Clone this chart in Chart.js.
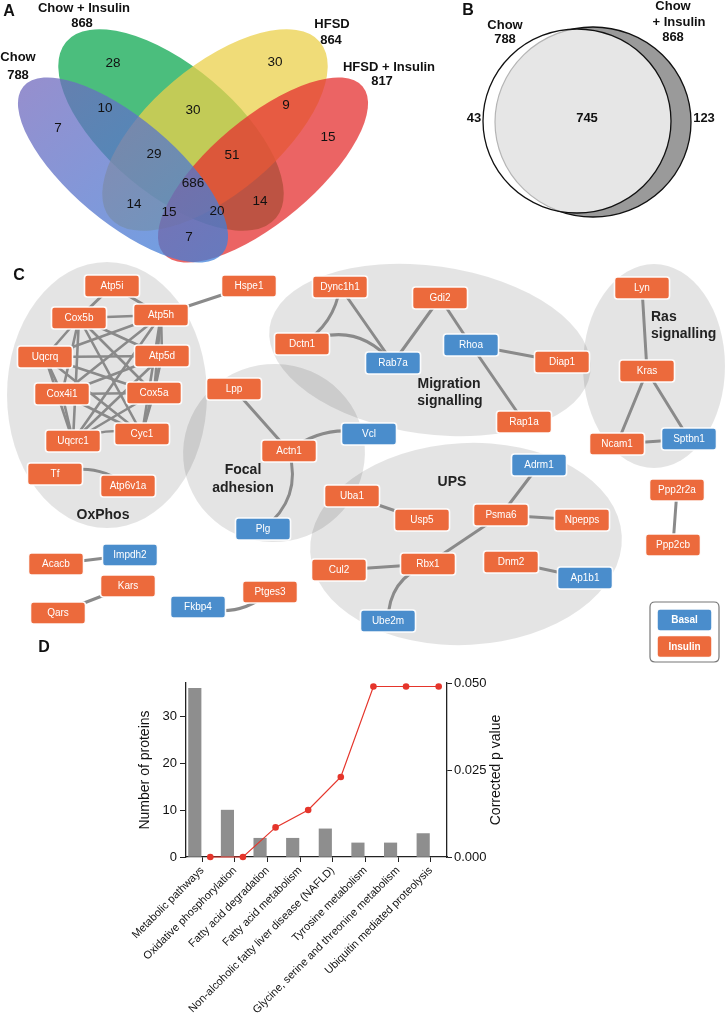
<!DOCTYPE html>
<html><head><meta charset="utf-8">
<script src="https://cdn.jsdelivr.net/npm/chart.js@4.4.1/dist/chart.umd.min.js"></script>
<style>
html,body{margin:0;padding:0;background:#fff;width:725px;height:1014px;overflow:hidden;}
#top{position:absolute;left:0;top:0;width:725px;height:680px;}
#bottom{position:absolute;left:0;top:640px;width:725px;height:374px;}
</style></head><body>
<div id="top"><canvas id="c1"></canvas></div>
<div id="bottom"><canvas id="c2"></canvas></div>
<script>
const F = '"Liberation Sans", Arial, Helvetica, sans-serif';

// ---------- Panel A: four-set Venn ----------
const vennSetNames = ['Chow', 'Chow + Insulin', 'HFSD', 'HFSD + Insulin'];
const vennSetTotals = [788, 868, 864, 817];
const vennRegions = ['A', 'B', 'C', 'D', 'AB', 'BC', 'CD', 'AC', 'BD', 'AD', 'ABC', 'BCD', 'ACD', 'ABD', 'ABCD'];
const vennCounts = [7, 28, 30, 15, 10, 30, 9, 14, 14, 7, 29, 51, 15, 20, 686];

// ---------- Panel B: two-set Venn ----------
const pairSetNames = ['Chow', 'Chow + Insulin'];
const pairSetTotals = [788, 868];
const pairRegions = ['Chow only', 'Shared', 'Chow + Insulin only'];
const pairCounts = [43, 745, 123];

// ---------- Panel C: network ----------
const nodeNames = ['Atp5i','Hspe1','Dync1h1','Cox5b','Atp5h','Dctn1','Uqcrq','Atp5d','Cox4i1','Cox5a','Lpp','Uqcrc1','Cyc1','Actn1','Vcl','Tf','Atp6v1a','Gdi2','Rab7a','Rhoa','Diap1','Rap1a','Lyn','Kras','Ncam1','Sptbn1','Adrm1','Ppp2r2a','Plg','Uba1','Usp5','Psma6','Npepps','Rbx1','Cul2','Dnm2','Ap1b1','Ube2m','Impdh2','Acacb','Kars','Qars','Fkbp4','Ptges3','Ppp2cb'];
const basalNodes = ['Vcl','Rab7a','Rhoa','Sptbn1','Adrm1','Plg','Ap1b1','Ube2m','Impdh2','Fkbp4'];
const oxphosCore = ['Cox5b','Atp5h','Uqcrq','Atp5d','Cox4i1','Cox5a','Uqcrc1','Cyc1'];
const otherEdges = [['Atp5i','Atp5h'],['Atp5i','Cox5b'],['Atp5h','Hspe1'],['Tf','Atp6v1a'],
  ['Dync1h1','Dctn1'],['Dync1h1','Rab7a'],['Dctn1','Rab7a'],['Gdi2','Rab7a'],['Gdi2','Rhoa'],['Rhoa','Diap1'],['Rhoa','Rap1a'],
  ['Lpp','Actn1'],['Actn1','Vcl'],['Actn1','Plg'],
  ['Lyn','Kras'],['Kras','Ncam1'],['Kras','Sptbn1'],['Ncam1','Sptbn1'],
  ['Uba1','Usp5'],['Adrm1','Psma6'],['Psma6','Npepps'],['Psma6','Rbx1'],['Cul2','Rbx1'],['Rbx1','Ube2m'],['Dnm2','Ap1b1'],
  ['Acacb','Impdh2'],['Kars','Qars'],['Fkbp4','Ptges3'],['Ppp2r2a','Ppp2cb']];
const clusterNames = ['OxPhos', 'Focal adhesion', 'Migration signalling', 'UPS', 'Ras signalling'];
const legendLabels = ['Basal', 'Insulin'];

// ---------- Panel D: enrichment ----------
const categories = ['Metabolic pathways', 'Oxidative phosphorylation', 'Fatty acid degradation', 'Fatty acid metabolism', 'Non-alcoholic fatty liver disease (NAFLD)', 'Tyrosine metabolism', 'Glycine, serine and threonine metabolism', 'Ubiquitin mediated proteolysis'];
const proteinCounts = [36, 10, 4, 4, 6, 3, 3, 5];
const correctedP = [0.0, 0.0, 0.0085, 0.0135, 0.023, 0.049, 0.049, 0.049];
const countTicks = [0, 10, 20, 30];
const pTicks = [0, 0.025, 0.05];
const yTitle = 'Number of proteins';
const y2Title = 'Corrected p value';

// ---------- layout (positions / styles only) ----------
const LAYOUT = {
  venn4: {
    ellipses: [[123,170,130,52,40],[171,130,137,64,40],[215,130,137,64,-40],[263,170,130,52,-40]],
    drawOrder: [1,2,3,0],
    regionPos: {A:[58,128],B:[113,63],C:[275,62],D:[328,137],AB:[105,108],BC:[193,110],CD:[286,105],AC:[134,204],BD:[260,201],AD:[189,237],ABC:[154,154],BCD:[232,155],ACD:[169,212],ABD:[217,211],ABCD:[193,183]},
    namePos: [[18,57],[84,8],[332,24],[389,67]],
    totalPos: [[18,75],[82,23],[331,40],[382,81]]
  },
  venn2: {
    chow: [577,121,94,92], ins: [593,122,98,95],
    countPos: [[474,118],[587,118],[704,118]],
    chowLabel: [[505,25],[505,39]],
    insLabel: [[673,6],[679,22],[673,37]]
  },
  nodePos: {Atp5i:[112,286],Hspe1:[249,286],Dync1h1:[340,287],Cox5b:[79,318],Atp5h:[161,315],Dctn1:[302,344],Uqcrq:[45,357],Atp5d:[162,356],Cox4i1:[62,394],Cox5a:[154,393],Lpp:[234,389],Uqcrc1:[73,441],Cyc1:[142,434],Actn1:[289,451],Vcl:[369,434],Tf:[55,474],Atp6v1a:[128,486],Gdi2:[440,298],Rab7a:[393,363],Rhoa:[471,345],Diap1:[562,362],Rap1a:[524,422],Lyn:[642,288],Kras:[647,371],Ncam1:[617,444],Sptbn1:[689,439],Adrm1:[539,465],Ppp2r2a:[677,490],Plg:[263,529],Uba1:[352,496],Usp5:[422,520],Psma6:[501,515],Npepps:[582,520],Rbx1:[428,564],Cul2:[339,570],Dnm2:[511,562],Ap1b1:[585,578],Ube2m:[388,621],Impdh2:[130,555],Acacb:[56,564],Kars:[128,586],Qars:[58,613],Fkbp4:[198,607],Ptges3:[270,592],Ppp2cb:[673,545]},
  bends: {'Tf-Atp6v1a':-10,'Dync1h1-Dctn1':-8,'Dctn1-Rab7a':-18,'Actn1-Vcl':-10,'Actn1-Plg':-14,'Rbx1-Ube2m':12,'Fkbp4-Ptges3':10,'Uqcrc1-Cyc1':-6},
  blobs: [[107,395,100,133,0],[274,453,91,89,-10],[430,350,162,84,8],[466,544,156,101,-3],[654,366,71,102,0]],
  clusterLabelPos: [[[103,515]],[[243,470],[243,488]],[[449,384],[450,401]],[[452,482]],[[651,317],[651,334]]],
  clusterAlign: ['center','center','center','center','left'],
  legendBox: [650,602,69,60],
  legendPos: [[684.5,620],[684.5,646.5]],
  node: {w:55, h:22, r:3},
  colors: {Basal:'#4a8dcc', Insulin:'#ec6a3c', edge:'#8a8a8a', blob:'rgba(0,0,0,0.105)'}
};

function rrect(ctx, x, y, w, h, r) {
  ctx.beginPath();
  ctx.moveTo(x + r, y); ctx.lineTo(x + w - r, y); ctx.quadraticCurveTo(x + w, y, x + w, y + r);
  ctx.lineTo(x + w, y + h - r); ctx.quadraticCurveTo(x + w, y + h, x + w - r, y + h);
  ctx.lineTo(x + r, y + h); ctx.quadraticCurveTo(x, y + h, x, y + h - r);
  ctx.lineTo(x, y + r); ctx.quadraticCurveTo(x, y, x + r, y); ctx.closePath();
}

const diagramPlugin = {
  id: 'diagram',
  beforeDatasetsDraw(chart) {
    const ctx = chart.ctx;
    const sx = chart.scales.x, sy = chart.scales.y;
    const X = v => sx.getPixelForValue(v), Y = v => sy.getPixelForValue(v);
    const S = d => X(d) - X(0);
    const ell = (cx, cy, rx, ry, rot) => { ctx.beginPath(); ctx.ellipse(X(cx), Y(cy), S(rx), S(ry), rot * Math.PI / 180, 0, Math.PI * 2); };
    const text = (t, x, y, font, color, align) => { ctx.font = font; ctx.fillStyle = color; ctx.textAlign = align || 'center'; ctx.textBaseline = 'middle'; ctx.fillText(t, X(x), Y(y)); };
    ctx.save();

    text('A', 9, 12, `bold 16px ${F}`, '#111');
    text('B', 468, 11, `bold 16px ${F}`, '#111');
    text('C', 19, 276, `bold 16px ${F}`, '#111');

    // ----- Panel A -----
    const V = LAYOUT.venn4;
    const fills = [null, 'rgb(15,168,82)', 'rgb(235,208,75)', 'rgb(228,48,48)'];
    V.drawOrder.forEach(i => {
      const e = V.ellipses[i];
      let fill = fills[i];
      if (i === 0) {
        const g = ctx.createLinearGradient(X(40), Y(80), X(200), Y(262));
        g.addColorStop(0, 'rgb(112,106,190)');
        g.addColorStop(1, 'rgb(62,128,218)');
        fill = g;
      }
      ctx.globalAlpha = 0.75; ctx.fillStyle = fill;
      ell(e[0], e[1], e[2], e[3], e[4]); ctx.fill();
    });
    ctx.globalAlpha = 1;
    vennRegions.forEach((r, i) => { const p = V.regionPos[r]; text(String(vennCounts[i]), p[0], p[1], `13.5px ${F}`, '#111'); });
    vennSetNames.forEach((n, i) => {
      text(n, V.namePos[i][0], V.namePos[i][1], `bold 13px ${F}`, '#111');
      text(String(vennSetTotals[i]), V.totalPos[i][0], V.totalPos[i][1], `bold 13px ${F}`, '#111');
    });

    // ----- Panel B -----
    const B = LAYOUT.venn2;
    const c = B.chow, s = B.ins;
    ctx.lineWidth = 1.3;
    ell(s[0], s[1], s[2], s[3], 0); ctx.fillStyle = '#9a9a9a'; ctx.fill(); ctx.strokeStyle = '#111'; ctx.stroke();
    ell(c[0], c[1], c[2], c[3], 0); ctx.fillStyle = '#ffffff'; ctx.fill();
    ctx.save(); ell(c[0], c[1], c[2], c[3], 0); ctx.clip();
    ell(s[0], s[1], s[2], s[3], 0); ctx.fillStyle = '#e6e6e6'; ctx.fill(); ctx.strokeStyle = '#b5b5b5'; ctx.lineWidth = 1.2; ctx.stroke();
    ctx.restore();
    ell(c[0], c[1], c[2], c[3], 0); ctx.strokeStyle = '#111'; ctx.lineWidth = 1.3; ctx.stroke();
    pairCounts.forEach((v, i) => text(String(v), B.countPos[i][0], B.countPos[i][1], `bold 13px ${F}`, '#111'));
    text(pairSetNames[0], B.chowLabel[0][0], B.chowLabel[0][1], `bold 13px ${F}`, '#111');
    text(String(pairSetTotals[0]), B.chowLabel[1][0], B.chowLabel[1][1], `bold 13px ${F}`, '#111');
    const insParts = ['Chow', '+ Insulin'];
    text(insParts[0], B.insLabel[0][0], B.insLabel[0][1], `bold 13px ${F}`, '#111');
    text(insParts[1], B.insLabel[1][0], B.insLabel[1][1], `bold 13px ${F}`, '#111');
    text(String(pairSetTotals[1]), B.insLabel[2][0], B.insLabel[2][1], `bold 13px ${F}`, '#111');

    // ----- Panel C -----
    LAYOUT.blobs.forEach(b => { ctx.fillStyle = LAYOUT.colors.blob; ell(b[0], b[1], b[2], b[3], b[4]); ctx.fill(); });
    clusterNames.forEach((n, i) => {
      const words = LAYOUT.clusterLabelPos[i].length > 1 ? n.split(' ') : [n];
      words.forEach((w, j) => { const p = LAYOUT.clusterLabelPos[i][j]; text(w, p[0], p[1], `bold 14px ${F}`, '#222', LAYOUT.clusterAlign[i]); });
    });
    const edges = [];
    for (let i = 0; i < oxphosCore.length; i++) for (let j = i + 1; j < oxphosCore.length; j++) edges.push([oxphosCore[i], oxphosCore[j]]);
    otherEdges.forEach(e => edges.push(e));
    ctx.strokeStyle = LAYOUT.colors.edge; ctx.lineCap = 'round';
    edges.forEach(([a, b]) => {
      const pa = LAYOUT.nodePos[a], pb = LAYOUT.nodePos[b];
      const x1 = X(pa[0]), y1 = Y(pa[1]), x2 = X(pb[0]), y2 = Y(pb[1]);
      const bend = LAYOUT.bends[a + '-' + b] || 0;
      ctx.lineWidth = oxphosCore.includes(a) && oxphosCore.includes(b) ? 2.6 : 3;
      ctx.beginPath(); ctx.moveTo(x1, y1);
      if (bend) {
        const dx = x2 - x1, dy = y2 - y1, L = Math.hypot(dx, dy);
        const mx = (x1 + x2) / 2 - dy / L * bend * 2, my = (y1 + y2) / 2 + dx / L * bend * 2;
        ctx.quadraticCurveTo(mx, my, x2, y2);
      } else ctx.lineTo(x2, y2);
      ctx.stroke();
    });
    const N = LAYOUT.node;
    const drawNode = (label, cx, cy, group, bold) => {
      rrect(ctx, X(cx) - N.w / 2, Y(cy) - N.h / 2, N.w, N.h, N.r);
      ctx.fillStyle = LAYOUT.colors[group]; ctx.fill();
      ctx.strokeStyle = 'rgba(255,255,255,0.95)'; ctx.lineWidth = 1.6; ctx.stroke();
      text(label, cx, cy + 0.5, `${bold ? 'bold ' : ''}10px ${F}`, '#fff');
    };
    nodeNames.forEach(n => { const p = LAYOUT.nodePos[n]; drawNode(n, p[0], p[1], basalNodes.includes(n) ? 'Basal' : 'Insulin', false); });
    const lb = LAYOUT.legendBox;
    rrect(ctx, X(lb[0]), Y(lb[1]), S(lb[2]), S(lb[3]), 5);
    ctx.fillStyle = '#fff'; ctx.fill(); ctx.strokeStyle = '#777'; ctx.lineWidth = 1.2; ctx.stroke();
    legendLabels.forEach((l, i) => drawNode(l, LAYOUT.legendPos[i][0], LAYOUT.legendPos[i][1], l, true));
    ctx.restore();
  }
};

new Chart(document.getElementById('c1'), {
  type: 'scatter',
  data: { datasets: [{ data: nodeNames.map(n => ({ x: LAYOUT.nodePos[n][0], y: LAYOUT.nodePos[n][1] })), pointRadius: 0 }] },
  options: {
    responsive: true, maintainAspectRatio: false, animation: false, events: [],
    layout: { padding: 0 },
    plugins: { legend: { display: false }, tooltip: { enabled: false } },
    scales: {
      x: { type: 'linear', min: 0, max: 725, display: false },
      y: { type: 'linear', min: 0, max: 680, reverse: true, display: false }
    }
  },
  plugins: [diagramPlugin]
});

// ---------- Panel D chart ----------
const dTitles = {
  id: 'dTitles',
  afterDraw(chart) {
    const { ctx, chartArea: a } = chart;
    ctx.save();
    ctx.fillStyle = '#111'; ctx.font = `14px ${F}`; ctx.textAlign = 'center'; ctx.textBaseline = 'middle';
    const cy = (a.top + a.bottom) / 2;
    [[a.left - 41, yTitle], [a.right + 49, y2Title]].forEach(([x, t]) => {
      ctx.save(); ctx.translate(x, cy); ctx.rotate(-Math.PI / 2); ctx.fillText(t, 0, 0); ctx.restore();
    });
    ctx.font = `bold 16px ${F}`; ctx.fillText('D', 44, 8);
    ctx.restore();
  }
};

const axisColor = '#222';
new Chart(document.getElementById('c2'), {
  data: {
    datasets: [
      { type: 'bar', label: yTitle, data: proteinCounts.map((v, i) => ({ x: i - 0.23, y: v })),
        backgroundColor: '#8e8e8e', borderWidth: 0, barThickness: 12.5, yAxisID: 'y', order: 2 },
      { type: 'line', label: y2Title, data: correctedP.map((v, i) => ({ x: i + 0.245, y: v })),
        borderColor: '#e5352b', backgroundColor: '#e5352b', borderWidth: 1.2, pointRadius: 3.3,
        pointBorderWidth: 0, pointBackgroundColor: '#e5352b', yAxisID: 'y2', clip: false, tension: 0, order: 1 }
    ]
  },
  options: {
    responsive: true, maintainAspectRatio: false, animation: false, events: [],
    layout: { padding: { left: 128, right: 216, top: 43, bottom: 0 } },
    plugins: { legend: { display: false }, tooltip: { enabled: false } },
    scales: {
      x: {
        type: 'linear', min: -0.5, max: categories.length - 0.5, position: 'bottom', offset: false,
        afterBuildTicks: s => { s.ticks = categories.map((c, i) => ({ value: i })); },
        afterFit: s => { s.height = 157; },
        ticks: { autoSkip: false, maxRotation: 45, minRotation: 45, padding: 2, color: '#111', font: { family: F, size: 11 },
          callback: v => categories[v] },
        grid: { display: true, offset: false, drawOnChartArea: false, drawTicks: true, tickLength: 5, color: axisColor, lineWidth: 1 },
        border: { display: true, color: axisColor, width: 1.3 }
      },
      y: {
        type: 'linear', position: 'left', min: 0, max: 37.14,
        afterBuildTicks: s => { s.ticks = countTicks.map(v => ({ value: v })); },
        afterFit: s => { s.width = 58; },
        ticks: { padding: 3, color: '#111', font: { family: F, size: 13 } },
        grid: { display: true, drawOnChartArea: false, drawTicks: true, tickLength: 6, color: axisColor, lineWidth: 1 },
        border: { display: true, color: axisColor, width: 1.3 }
      },
      y2: {
        type: 'linear', position: 'right', min: 0, max: 0.05,
        afterBuildTicks: s => { s.ticks = pTicks.map(v => ({ value: v })); },
        afterFit: s => { s.width = 62; },
        ticks: { padding: 2, color: '#111', font: { family: F, size: 13 }, callback: v => v.toFixed(3) },
        grid: { display: true, drawOnChartArea: false, drawTicks: true, tickLength: 5, color: axisColor, lineWidth: 1 },
        border: { display: true, color: axisColor, width: 1.3 }
      }
    }
  },
  plugins: [dTitles]
});
</script>
</body></html>
